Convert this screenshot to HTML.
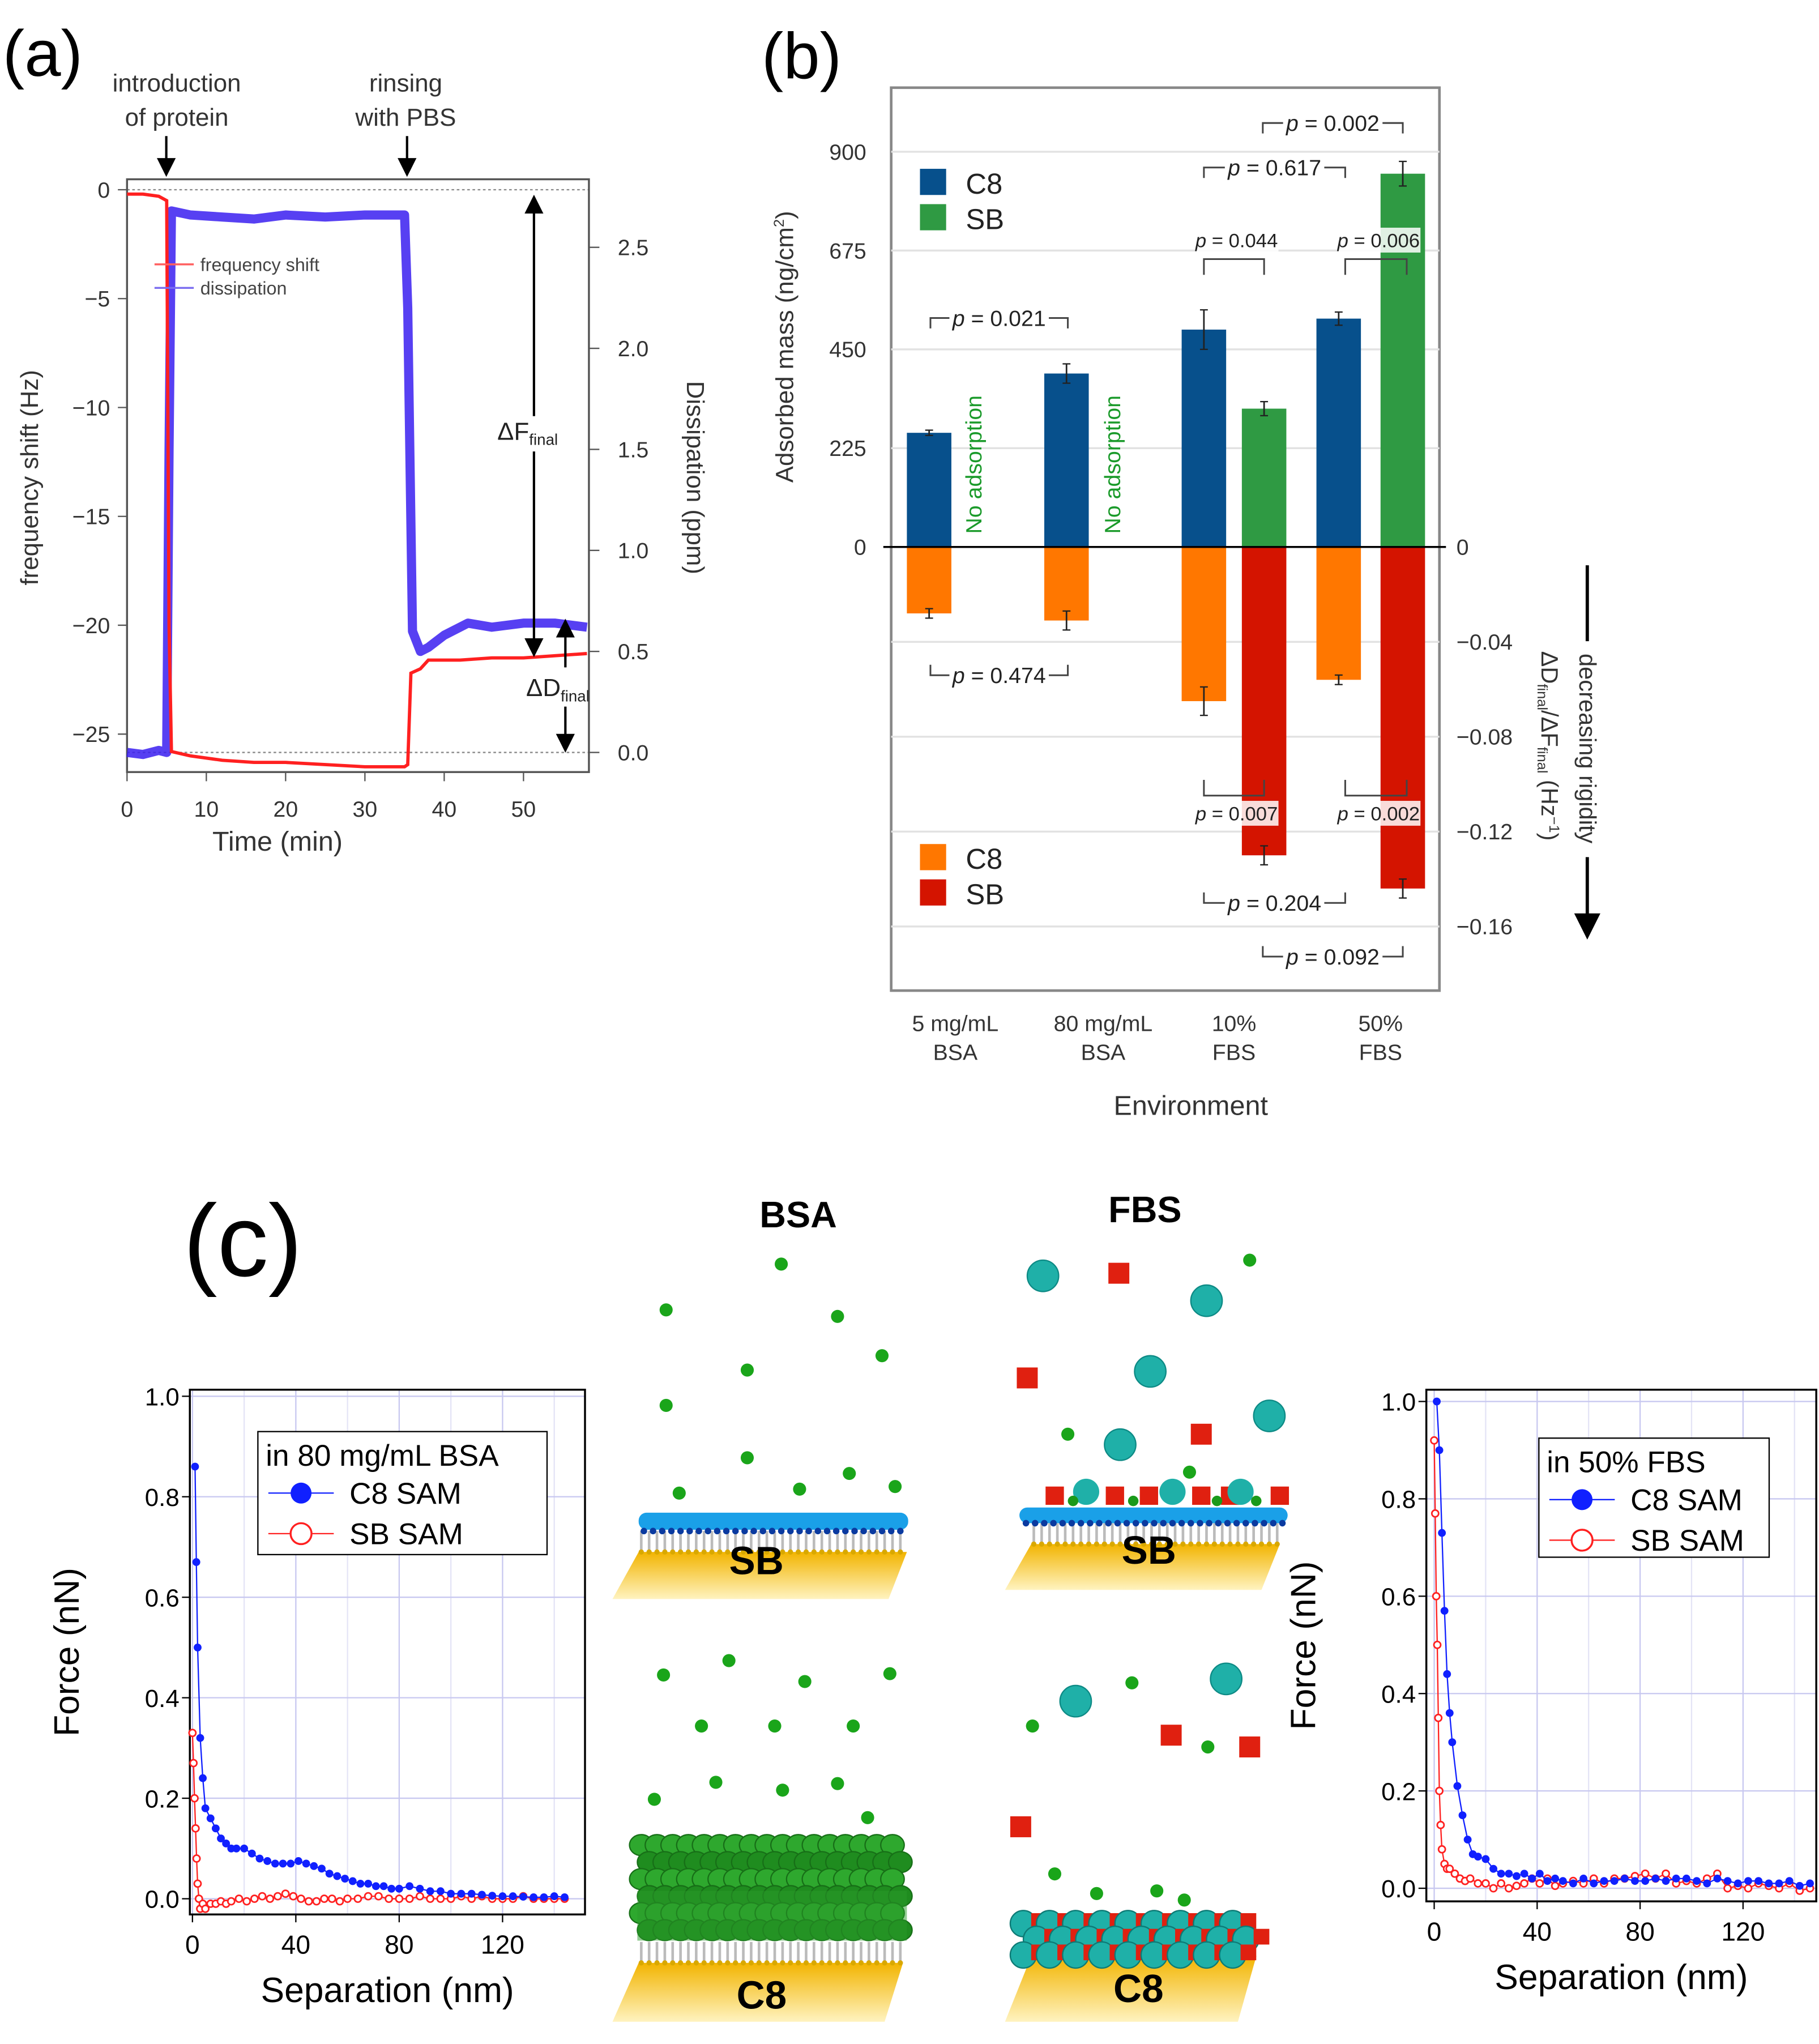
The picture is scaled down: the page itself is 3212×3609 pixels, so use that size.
<!DOCTYPE html>
<html><head><meta charset="utf-8"><style>
html,body{margin:0;padding:0;background:#fff}
svg{display:block}
text{font-family:"Liberation Sans",Arial,sans-serif}
</style></head><body>
<svg id="fig" width="3212" height="3609" viewBox="0 0 1390 1562" xmlns="http://www.w3.org/2000/svg">
<defs>
<linearGradient id="gold" x1="0" y1="0" x2="0" y2="1"><stop offset="0" stop-color="#f2b400"/><stop offset="1" stop-color="#fff3c0"/></linearGradient>
<marker id="ah" markerWidth="8" markerHeight="8" refX="4" refY="4" orient="auto-start-reverse"><path d="M0,0 L8,4 L0,8 z" fill="#000"/></marker>
</defs>
<g id="pa"></g>
<g id="pb"></g>
<g id="pc"></g>
</svg>
<script>
// ---------- Panel (a) data ----------
const aTime = [0,2,4,5,5.3,5.6,8,12,16,20,25,30,35,35.4,35.8,37,38,42,46,50,54,58];
const aFreq = [-0.2,-0.2,-0.3,-0.5,-20,-25.8,-26.0,-26.2,-26.3,-26.3,-26.4,-26.5,-26.5,-26.4,-22.2,-22.0,-21.6,-21.6,-21.5,-21.5,-21.4,-21.3];
const aDissTime = [0,2,4,5,5.3,5.6,8,12,16,20,25,30,35,35.4,36,37,38,40,43,46,50,54,58];
const aDiss = [0.0,-0.01,0.01,0.0,1.5,2.68,2.66,2.65,2.64,2.66,2.65,2.66,2.66,2.2,0.6,0.5,0.52,0.58,0.64,0.62,0.64,0.64,0.62];
const aXTicks = [0,10,20,30,40,50];
const aYTicks = [0,-5,-10,-15,-20,-25];
const aY2Ticks = ["0.0","0.5","1.0","1.5","2.0","2.5"];
// ---------- Panel (b) data ----------
const bCats = ["5 mg/mL|BSA","80 mg/mL|BSA","10%|FBS","50%|FBS"];
const bMassC8 = [260,395,495,520];
const bMassC8Err = [6,22,45,15];
const bMassSB = [0,0,315,850];
const bMassSBErr = [0,0,16,28];
const bRigC8 = [-0.028,-0.031,-0.065,-0.056];
const bRigC8Err = [0.002,0.004,0.006,0.002];
const bRigSB = [0,0,-0.130,-0.144];
const bRigSBErr = [0,0,0.004,0.004];
const bMassTicks = [0,225,450,675,900];
const bRigTicks = [0,-0.04,-0.08,-0.12,-0.16];
// ---------- Panel (c) data ----------
const cLX_C8 = [1,1.5,2,3,4,5,7,9,11,13,15,17,20,23,26,29,32,35,38,41,44,47,50,53,56,59,62,65,68,71,74,77,80,84,88,92,96,100,104,108,112,116,120,124,128,132,136,140,144];
const cLY_C8 = [0.86,0.67,0.5,0.32,0.24,0.18,0.16,0.14,0.12,0.11,0.10,0.10,0.10,0.09,0.08,0.075,0.07,0.07,0.07,0.075,0.07,0.065,0.06,0.05,0.045,0.04,0.035,0.03,0.03,0.025,0.025,0.02,0.02,0.025,0.02,0.015,0.015,0.01,0.01,0.01,0.008,0.006,0.005,0.005,0.004,0.003,0.003,0.005,0.003];
const cLX_SB = [0,0.4,0.8,1.2,1.6,2,2.5,3,4,5,7,9,11,13,15,18,21,24,27,30,33,36,39,42,45,48,51,54,57,60,64,68,72,76,80,84,88,92,96,100,104,108,112,116,120,124,128,132,136,140,144];
const cLY_SB = [0.33,0.27,0.2,0.14,0.08,0.03,0.0,-0.02,-0.01,-0.02,-0.01,-0.01,-0.005,-0.01,-0.005,0.0,-0.005,0.0,0.005,0.0,0.005,0.01,0.005,0.0,-0.005,-0.005,0.0,0.0,-0.005,0.0,0.0,0.005,0.005,0.0,0.0,0.0,0.005,0.0,0.0,0.0,0.005,0.0,0.005,0.0,0.0,0.0,0.005,0.0,0.0,0.0,0.0];
const cRX_C8 = [1,2,3,4,5,6,7,9,11,13,15,17,20,23,26,29,32,35,38,41,44,47,50,54,58,62,66,70,74,78,82,86,90,94,98,102,106,110,114,118,122,126,130,134,138,142,146];
const cRY_C8 = [1.0,0.9,0.73,0.57,0.44,0.36,0.3,0.21,0.15,0.1,0.07,0.065,0.06,0.04,0.03,0.03,0.025,0.03,0.02,0.03,0.015,0.02,0.015,0.01,0.02,0.01,0.015,0.015,0.02,0.015,0.015,0.02,0.015,0.02,0.02,0.015,0.01,0.02,0.015,0.01,0.015,0.015,0.01,0.01,0.015,0.005,0.01];
const cRX_SB = [0,0.4,0.8,1.2,1.6,2,2.5,3,4,5,6,8,10,12,14,17,20,23,26,29,32,35,38,41,44,47,50,54,58,62,66,70,74,78,82,86,90,94,98,102,106,110,114,118,122,126,130,134,138,142,146];
const cRY_SB = [0.92,0.77,0.6,0.5,0.35,0.2,0.13,0.08,0.05,0.04,0.04,0.03,0.02,0.015,0.02,0.01,0.01,0.0,0.01,0.0,0.005,0.01,0.02,0.01,0.02,0.005,0.01,0.015,0.01,0.02,0.01,0.02,0.02,0.025,0.03,0.02,0.03,0.01,0.015,0.01,0.02,0.03,0.0,0.005,0.0,0.01,0.005,0.0,0.01,-0.005,0.0];
const cXTicks = [0,40,80,120];
const cYTicks = ["0.0","0.2","0.4","0.6","0.8","1.0"];

const NS="http://www.w3.org/2000/svg";
function mk(parent,tag,attrs,txt){const e=document.createElementNS(NS,tag);for(const k in attrs)e.setAttribute(k,attrs[k]);if(txt!==undefined)e.textContent=txt;parent.appendChild(e);return e;}

// ================= Panel A =================
(function(){
const g=document.getElementById('pa');
const X=t=>97+t*6.06, Y2=d=>575-d*154.4;
const Yf=f=>145+(-f)*16.64;
let e=mk(g,'text',{x:2,y:58,'font-size':50},'(a)');


mk(g,'line',{x1:97,y1:145,x2:450,y2:145,stroke:'#888','stroke-dasharray':'2,2'});
mk(g,'line',{x1:97,y1:575,x2:450,y2:575,stroke:'#888','stroke-dasharray':'2,2'});
e=mk(g,'rect',{x:97,y:137,width:353,height:453,fill:'none',stroke:'#555','stroke-width':1.5});


let d='';aDissTime.forEach((t,i)=>{d+=(i?'L':'M')+X(t)+','+Y2(aDiss[i]);});
e=mk(g,'path',{d:d,fill:'none',stroke:'#3a1ff0','stroke-width':7,'stroke-opacity':0.85,'stroke-linejoin':'round'});


d='';aTime.forEach((t,i)=>{d+=(i?'L':'M')+X(t)+','+Yf(aFreq[i]);});
e=mk(g,'path',{d:d,fill:'none',stroke:'#ff2020','stroke-width':2.5});


aXTicks.forEach(t=>{mk(g,'line',{x1:X(t),y1:590,x2:X(t),y2:597,stroke:'#555'});
 e=mk(g,'text',{x:X(t),y:624,'font-size':17,'text-anchor':'middle',fill:'#333'},t);
 
 });
aYTicks.forEach(v=>{mk(g,'line',{x1:90,y1:Yf(v),x2:97,y2:Yf(v),stroke:'#555'});
 e=mk(g,'text',{x:84,y:Yf(v)+6,'font-size':17,'text-anchor':'end',fill:'#333'},v===0?'0':'\u2212'+(-v));
 
 });
aY2Ticks.forEach(v=>{const y=Y2(+v);mk(g,'line',{x1:450,y1:y,x2:458,y2:y,stroke:'#555'});
 e=mk(g,'text',{x:472,y:y+6,'font-size':17,fill:'#333'},v);
 
 });
e=mk(g,'text',{x:212,y:650,'font-size':21,'text-anchor':'middle',fill:'#333'},'Time (min)');


e=mk(g,'text',{x:0,y:0,'font-size':19,'text-anchor':'middle',fill:'#333',transform:'translate(29,365) rotate(-90)'},'frequency shift (Hz)');


e=mk(g,'text',{x:0,y:0,'font-size':19,'text-anchor':'middle',fill:'#333',transform:'translate(525,365) rotate(90)'},'Dissipation (ppm)');


mk(g,'line',{x1:118,y1:202,x2:148,y2:202,stroke:'#ff6060','stroke-width':1.5});
mk(g,'line',{x1:118,y1:220,x2:148,y2:220,stroke:'#7a6cf0','stroke-width':1.5});
e=mk(g,'text',{x:153,y:207,'font-size':14,fill:'#444'},'frequency shift');


e=mk(g,'text',{x:153,y:225,'font-size':14,fill:'#444'},'dissipation');


[['introduction',135,70],['of protein',135,96],['rinsing',310,70],['with PBS',310,96]].forEach(a=>{
 e=mk(g,'text',{x:a[1],y:a[2],'font-size':19,'text-anchor':'middle',fill:'#333'},a[0]);
 
 });
mk(g,'line',{x1:127,y1:104,x2:127,y2:128,stroke:'#000','stroke-width':1.8,'marker-end':'url(#ah)'});
mk(g,'line',{x1:311,y1:104,x2:311,y2:128,stroke:'#000','stroke-width':1.8,'marker-end':'url(#ah)'});
mk(g,'line',{x1:408,y1:156,x2:408,y2:318,stroke:'#000','stroke-width':1.8,'marker-start':'url(#ah)'});
mk(g,'line',{x1:408,y1:345,x2:408,y2:495,stroke:'#000','stroke-width':1.8,'marker-end':'url(#ah)'});
mk(g,'line',{x1:432,y1:480,x2:432,y2:510,stroke:'#000','stroke-width':1.8,'marker-start':'url(#ah)'});
mk(g,'line',{x1:432,y1:540,x2:432,y2:568,stroke:'#000','stroke-width':1.8,'marker-end':'url(#ah)'});
e=mk(g,'text',{x:380,y:336,'font-size':19,fill:'#222'});e.innerHTML='ΔF<tspan font-size="12" dy="4">final</tspan>';


e=mk(g,'text',{x:402,y:532,'font-size':19,fill:'#222'});e.innerHTML='ΔD<tspan font-size="12" dy="4">final</tspan>';


})();

// ================= Panel B =================
(function(){
const g=document.getElementById('pb');
const YM=v=>418-v*0.3356, YR=v=>418-v*1812.5;
const cx=[730,843,943,1055];
const c8x=[693,798,903,1006], sbx=[0,0,949,1055], bw=34;
let e=mk(g,'text',{x:582,y:60,'font-size':50},'(b)');


mk(g,'rect',{x:681,y:67,width:419,height:690,fill:'none',stroke:'#888','stroke-width':2});
bMassTicks.slice(1).forEach(v=>mk(g,'line',{x1:681,y1:YM(v),x2:1100,y2:YM(v),stroke:'#e2e2e2','stroke-width':1.5}));
bRigTicks.slice(1).forEach(v=>mk(g,'line',{x1:681,y1:YR(v),x2:1100,y2:YR(v),stroke:'#e2e2e2','stroke-width':1.5}));
function bar(x,y0,y1,col,name){const r=mk(g,'rect',{x:x,y:Math.min(y0,y1),width:bw,height:Math.abs(y1-y0),fill:col});
 
 }
function err(x,yc,ylo,yhi){mk(g,'line',{x1:x,y1:ylo,x2:x,y2:yhi,stroke:'#222','stroke-width':1.2});
 mk(g,'line',{x1:x-3,y1:ylo,x2:x+3,y2:ylo,stroke:'#222'});mk(g,'line',{x1:x-3,y1:yhi,x2:x+3,y2:yhi,stroke:'#222'});}
bCats.forEach((c,i)=>{
 bar(c8x[i],YM(0),YM(bMassC8[i]),'#07508c','bar-mass-c8');
 err(c8x[i]+bw/2,0,YM(bMassC8[i]-bMassC8Err[i]),YM(bMassC8[i]+bMassC8Err[i]));
 bar(c8x[i],YR(0),YR(bRigC8[i]),'#ff7700','bar-rigidity-c8');
 err(c8x[i]+bw/2,0,YR(bRigC8[i]-bRigC8Err[i]),YR(bRigC8[i]+bRigC8Err[i]));
 if(bMassSB[i]>0){bar(sbx[i],YM(0),YM(bMassSB[i]),'#2f9a43','bar-mass-sb');
  err(sbx[i]+bw/2,0,YM(bMassSB[i]-bMassSBErr[i]),YM(bMassSB[i]+bMassSBErr[i]));}
 if(bRigSB[i]<0){bar(sbx[i],YR(0),YR(bRigSB[i]),'#d41400','bar-rigidity-sb');
  err(sbx[i]+bw/2,0,YR(bRigSB[i]-bRigSBErr[i]),YR(bRigSB[i]+bRigSBErr[i]));}
 const p=c.split('|');
 e=mk(g,'text',{x:cx[i],y:788,'font-size':17,'text-anchor':'middle',fill:'#333'},p[0]);
 
 
 e=mk(g,'text',{x:cx[i],y:810,'font-size':17,'text-anchor':'middle',fill:'#333'},p[1]);
 
 
});
mk(g,'line',{x1:675,y1:418,x2:1105,y2:418,stroke:'#000','stroke-width':1.5});
bMassTicks.forEach(v=>{e=mk(g,'text',{x:662,y:YM(v)+6,'font-size':17,'text-anchor':'end',fill:'#333'},v);
 
 });
bRigTicks.forEach(v=>{e=mk(g,'text',{x:1113,y:YR(v)+6,'font-size':17,fill:'#333'},v===0?'0':'\u2212'+String(-v));
 
 });
e=mk(g,'text',{x:0,y:0,'font-size':19,'text-anchor':'middle',fill:'#333',transform:'translate(606,265) rotate(-90)'});
e.innerHTML='Adsorbed mass (ng/cm<tspan font-size="11" dy="-7">2</tspan><tspan dy="7">)</tspan>';


e=mk(g,'text',{x:0,y:0,'font-size':18,'text-anchor':'middle',fill:'#333',transform:'translate(1178,570) rotate(90)'});
e.innerHTML='ΔD<tspan font-size="11" dy="3">final</tspan><tspan dy="-3">/ΔF</tspan><tspan font-size="11" dy="3">final</tspan><tspan dy="-3"> (Hz</tspan><tspan font-size="11" dy="-6">−1</tspan><tspan dy="6">)</tspan>';


e=mk(g,'text',{x:0,y:0,'font-size':18,'text-anchor':'middle',fill:'#333',transform:'translate(1207,572) rotate(90)'},'decreasing rigidity');


mk(g,'line',{x1:1213,y1:432,x2:1213,y2:490,stroke:'#000','stroke-width':2.5});
mk(g,'line',{x1:1213,y1:655,x2:1213,y2:708,stroke:'#000','stroke-width':2.5,'marker-end':'url(#ah)'});
e=mk(g,'text',{x:910,y:852,'font-size':21,'text-anchor':'middle',fill:'#333'},'Environment');


[[750,310],[856,310]].forEach(a=>{e=mk(g,'text',{x:0,y:0,'font-size':17,fill:'#1a9a2a','text-anchor':'middle',transform:`translate(${a[0]},${355}) rotate(-90)`},'No adsorption');
 
 });
[[703,129,'#07508c','C8'],[703,156,'#2f9a43','SB'],[703,645,'#ff7700','C8'],[703,672,'#d41400','SB']].forEach(l=>{
 mk(g,'rect',{x:l[0],y:l[1],width:20,height:20,fill:l[2]});
 e=mk(g,'text',{x:738,y:l[1]+19,'font-size':22,fill:'#222'},l[3]);
 
 });
function brk(x1,x2,y,label,up){const h=up?8:-8;const m=(x1+x2)/2;
 mk(g,'path',{d:`M${x1},${y+h}V${y}H${m-38}M${m+38},${y}H${x2}V${y+h}`,fill:'none',stroke:'#444','stroke-width':1.3});
 const t=mk(g,'text',{x:m,y:y+6,'font-size':17,'text-anchor':'middle',fill:'#222'});
 t.innerHTML='<tspan font-style="italic">p</tspan> = '+label;
 
 }
brk(711,816,243,'0.021',true);
brk(711,816,516,'0.474',false);
brk(920,1028,128,'0.617',true);
brk(965,1072,94,'0.002',true);
brk(920,1028,690,'0.204',false);
brk(965,1072,731,'0.092',false);
function brk2(x1,x2,y,ly,label,up){const h=up?12:-12;
 mk(g,'path',{d:`M${x1},${y+h}V${y}H${x2}V${y+h}`,fill:'none',stroke:'#444','stroke-width':1.3});
 mk(g,'rect',{x:(x1+x2)/2-30,y:ly-15,width:64,height:19,fill:'#fff','fill-opacity':0.85});
 const t=mk(g,'text',{x:(x1+x2)/2+2,y:ly,'font-size':15,'text-anchor':'middle',fill:'#222'});
 t.innerHTML='<tspan font-style="italic">p</tspan> = '+label;
 
 }
brk2(920,966,198,189,'0.044',true);
brk2(1028,1075,198,189,'0.006',true);
brk2(920,966,608,627,'0.007',false);
brk2(1028,1075,608,627,'0.002',false);
})();

// ================= Panel C =================
(function(){
const g=document.getElementById('pc');
let e=mk(g,'text',{x:140,y:975,'font-size':78},'(c)');


function chart(ox,oy,x0,y0,sx,sy,w,h,xs1,ys1,xs2,ys2,leg,lx,ly,lw,lh,nm){
 const X=v=>x0+v*sx, Y=v=>y0-v*sy;
 const gg=mk(g,'g',{});
 
 
 cXTicks.forEach(t=>mk(gg,'line',{x1:X(t),y1:oy,x2:X(t),y2:oy+h,stroke:'#c8c8f0','stroke-width':1}));
 [20,60,100,140].forEach(t=>{if(X(t)<ox+w)mk(gg,'line',{x1:X(t),y1:oy,x2:X(t),y2:oy+h,stroke:'#e4e4f6','stroke-width':1});});
 cYTicks.forEach(t=>mk(gg,'line',{x1:ox,y1:Y(+t),x2:ox+w,y2:Y(+t),stroke:'#c8c8f0','stroke-width':1}));
 mk(gg,'rect',{x:ox,y:oy,width:w,height:h,fill:'none',stroke:'#000','stroke-width':1.5});
 let d='';xs2.forEach((x,i)=>d+=(i?'L':'M')+X(x)+','+Y(ys2[i]));
 mk(gg,'path',{d:d,fill:'none',stroke:'#ff2020','stroke-width':1});
 xs2.forEach((x,i)=>{const c=mk(gg,'circle',{cx:X(x),cy:Y(ys2[i]),r:2.6,fill:'#fff',stroke:'#ff2020','stroke-width':1.2});
  
  });
 d='';xs1.forEach((x,i)=>d+=(i?'L':'M')+X(x)+','+Y(ys1[i]));
 mk(gg,'path',{d:d,fill:'none',stroke:'#1020ff','stroke-width':1});
 xs1.forEach((x,i)=>{const c=mk(gg,'circle',{cx:X(x),cy:Y(ys1[i]),r:3,fill:'#1020ff'});
  
  });
 cXTicks.forEach(t=>{mk(gg,'line',{x1:X(t),y1:oy+h,x2:X(t),y2:oy+h+6,stroke:'#000'});
  const tt=mk(gg,'text',{x:X(t),y:oy+h+30,'font-size':20,'text-anchor':'middle'},t);
  
  });
 cYTicks.forEach(t=>{mk(gg,'line',{x1:ox-6,y1:Y(+t),x2:ox,y2:Y(+t),stroke:'#000'});
  const tt=mk(gg,'text',{x:ox-8,y:Y(+t)+7,'font-size':19,'text-anchor':'end'},t);
  
  });
 let t=mk(gg,'text',{x:ox+w/2,y:oy+h+67,'font-size':27,'text-anchor':'middle'},'Separation (nm)');
 
 
 t=mk(gg,'text',{x:0,y:0,'font-size':27,'text-anchor':'middle',transform:`translate(${ox-85},${oy+h/2}) rotate(-90)`},'Force (nN)');
 
 
 mk(gg,'rect',{x:lx,y:ly,width:lw,height:lh,fill:'#fff',stroke:'#000','stroke-width':1});
 t=mk(gg,'text',{x:lx+6,y:ly+26,'font-size':23},leg);
 
 
 mk(gg,'line',{x1:lx+8,y1:ly+47,x2:lx+58,y2:ly+47,stroke:'#1020ff'});
 mk(gg,'circle',{cx:lx+33,cy:ly+47,r:8,fill:'#1020ff'});
 t=mk(gg,'text',{x:lx+70,y:ly+55,'font-size':23},'C8 SAM');
 
 
 mk(gg,'line',{x1:lx+8,y1:ly+78,x2:lx+58,y2:ly+78,stroke:'#ff2020'});
 mk(gg,'circle',{cx:lx+33,cy:ly+78,r:8,fill:'#fff',stroke:'#ff2020','stroke-width':1.5});
 t=mk(gg,'text',{x:lx+70,y:ly+86,'font-size':23},'SB SAM');
 
 
}
chart(145,1062,147,1451,1.975,384,302,401,cLX_C8,cLY_C8,cLX_SB,cLY_SB,'in 80 mg/mL BSA',197,1094,221,94,'force-chart-bsa');
chart(1090,1062,1096,1443,1.967,372,298,391,cRX_C8,cRY_C8,cRX_SB,cRY_SB,'in 50% FBS',1176,1099,176,91,'force-chart-fbs');

const cg=mk(g,'g',{});


e=mk(cg,'text',{x:610,y:938,'font-size':28,'font-weight':'bold','text-anchor':'middle'},'BSA');


e=mk(cg,'text',{x:875,y:934,'font-size':28,'font-weight':'bold','text-anchor':'middle'},'FBS');


function substrate(x1,x2,yTop,yBot,label,lx,ly){
 mk(cg,'polygon',{points:`${x1+20},${yTop} ${x2},${yTop} ${x2-14},${yBot} ${x1},${yBot}`,fill:'url(#gold)'});
 for(let x=x1+22;x<x2;x+=6)mk(cg,'line',{x1:x,y1:yTop-16,x2:x,y2:yTop,stroke:'#bbb','stroke-width':2});
 for(let x=x1+22;x<x2;x+=6)mk(cg,'circle',{cx:x,cy:yTop,r:2,fill:'#d9a800'});
 const t=mk(cg,'text',{x:lx,y:ly,'font-size':30,'font-weight':'bold','text-anchor':'middle'},label);
 
 
}
substrate(468,693,1186,1222,'SB',578,1203);
mk(cg,'rect',{x:488,y:1156,width:206,height:13,rx:6,fill:'#1aa0e8'});
for(let x=492;x<692;x+=7)mk(cg,'circle',{cx:x,cy:1170,r:2.5,fill:'#0a3aa0'});
substrate(468,690,1500,1545,'C8',582,1535);
for(let r=0;r<6;r++)for(let x=490;x<692;x+=12)mk(cg,'ellipse',{cx:x+(r%2)*6,cy:1410+r*13,rx:9,ry:8,fill:r%2?'#1f8c1f':'#2ea82e',stroke:'#176f17','stroke-width':1});
mk(cg,'rect',{x:487,y:1445,width:206,height:38,fill:'#2a9a2a','opacity':0.5});
substrate(768,978,1180,1215,'SB',878,1195);
mk(cg,'rect',{x:779,y:1152,width:205,height:12,rx:6,fill:'#1aa0e8'});
for(let x=784;x<982;x+=7)mk(cg,'circle',{cx:x,cy:1164,r:2.5,fill:'#0a3aa0'});
substrate(768,960,1495,1545,'C8',870,1530);
for(let r=0;r<3;r++)for(let x=782;x<960;x+=20){const o=(r%2)*10;
 mk(cg,'circle',{cx:x+o,cy:1470+r*12,r:10,fill:'#1fb0a8',stroke:'#0d7a75'});
 mk(cg,'rect',{x:x+o+6,y:1462+r*12,width:12,height:12,fill:'#e02010'});}
[[806],[852],[878],[918],[940],[978]].forEach(a=>mk(cg,'rect',{x:a[0]-7,y:1136,width:14,height:14,fill:'#e02010'}));
[[830],[896],[948]].forEach(a=>mk(cg,'circle',{cx:a[0],cy:1140,r:10,fill:'#1fb0a8'}));
[[820],[866],[930],[960]].forEach(a=>mk(cg,'circle',{cx:a[0],cy:1147,r:4,fill:'#1a9a1a'}));
const greenDots=[[597,966],[509,1001],[640,1006],[674,1036],[571,1047],[509,1074],[571,1114],[519,1141],[611,1138],[649,1126],[684,1136],
 [507,1280],[557,1269],[615,1285],[680,1279],[536,1319],[592,1319],[652,1319],[547,1362],[598,1368],[640,1363],[500,1375],[663,1389],
 [955,963],[816,1096],[909,1125],[865,1286],[789,1319],[923,1335],[806,1432],[838,1447],[884,1445],[905,1452]];
greenDots.forEach(p=>{const c=mk(cg,'circle',{cx:p[0],cy:p[1],r:5,fill:'#1aa51a'});
 
 });
const tealDots=[[797,975],[922,994],[879,1048],[970,1082],[856,1104],[822,1300],[937,1283]];
tealDots.forEach(p=>{const c=mk(cg,'circle',{cx:p[0],cy:p[1],r:12,fill:'#1fb0a8',stroke:'#0d8a85'});
 
 });
const redSq=[[855,973],[785,1053],[918,1096],[895,1326],[955,1335],[780,1396]];
redSq.forEach(p=>{const c=mk(cg,'rect',{x:p[0]-8,y:p[1]-8,width:16,height:16,fill:'#e02010'});
 
 });
})();
</script>
</body></html>
